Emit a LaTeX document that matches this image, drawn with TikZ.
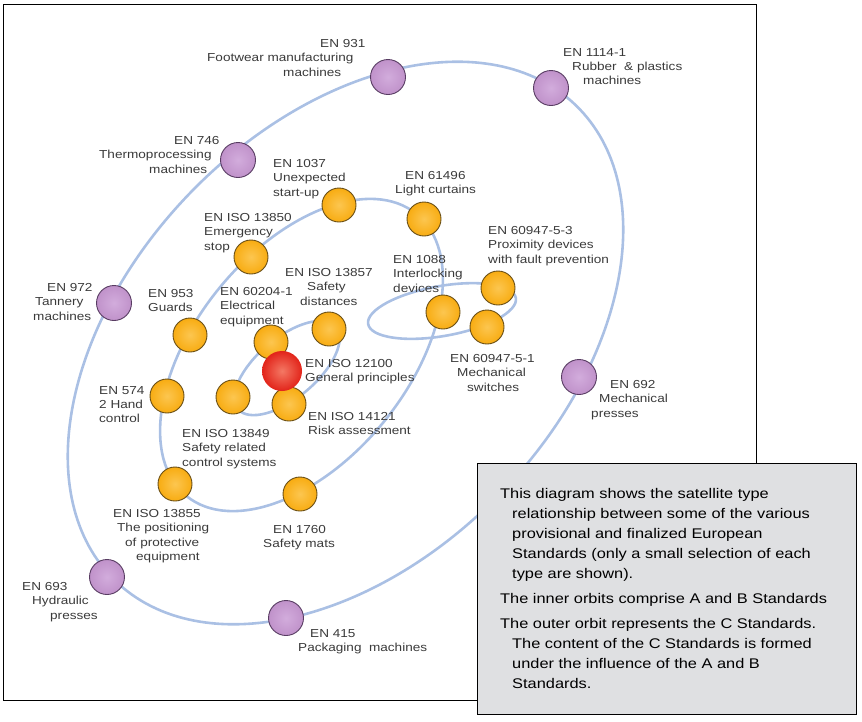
\documentclass[tikz,border=0pt]{standalone}
\usepackage{fontspec}
\setmainfont{Liberation Sans}[FakeStretch=1.17]
\definecolor{orbitblue}{RGB}{170,192,228}
\definecolor{omain}{RGB}{248,172,18}
\definecolor{olight}{RGB}{252,198,80}
\definecolor{obrd}{RGB}{105,78,22}
\definecolor{pmain}{RGB}{192,146,202}
\definecolor{plight}{RGB}{210,172,220}
\definecolor{pbrd}{RGB}{88,60,98}
\definecolor{rmain}{RGB}{226,36,26}
\definecolor{rlight}{RGB}{244,120,100}
\definecolor{lbltext}{RGB}{58,58,58}
\definecolor{boxfill}{RGB}{223,224,226}
\begin{document}
\begin{tikzpicture}[x=1pt,y=-1pt,
  orbit/.style={draw=orbitblue,line width=2.6pt},
  onode/.style={circle,minimum size=34pt,inner sep=0pt,draw=obrd,line width=0.9pt,inner color=olight,outer color=omain},
  pnode/.style={circle,minimum size=35pt,inner sep=0pt,draw=pbrd,line width=0.9pt,inner color=plight,outer color=pmain},
  rnode/.style={circle,minimum size=40pt,inner sep=0pt,inner color=rlight,outer color=rmain},
  lbl/.style={anchor=north west,inner sep=0pt,align=left,text=lbltext,font=\fontsize{11.6}{14.4}\selectfont},
  boxtxt/.style={anchor=north west,inner sep=0pt,align=left,text=black,font=\fontsize{14}{20}\selectfont}]
\useasboundingbox (0,0) rectangle (862,721);
% frame
\draw[line width=1pt] (3,4) rectangle (756,700);
% orbits
\draw[orbit, rotate around={45.9:(345.5,343)}] (345.5,343) ellipse [x radius=331pt, y radius=216pt];
\draw[orbit, rotate around={50.75:(301.5,355)}] (301.5,355) ellipse [x radius=182pt, y radius=106pt];
\draw[orbit, rotate around={40:(287,368)}] (287,368) ellipse [x radius=64pt, y radius=30pt];
\draw[orbit, rotate around={10:(442,311)}] (442,311) ellipse [x radius=75pt, y radius=25pt];
% C standards (purple)
\node[pnode] (n931) at (388,77) {};
\node[pnode] (n1114) at (551,88) {};
\node[pnode] (n746) at (238,160) {};
\node[pnode] (n972) at (114,303) {};
\node[pnode] (n692) at (579,377) {};
\node[pnode] (n693) at (107,577) {};
\node[pnode] (n415) at (286,618) {};
% A and B standards (orange)
\node[onode] (n1037) at (339,205) {};
\node[onode] (n61496) at (424,219) {};
\node[onode] (n13850) at (251,257) {};
\node[onode] (n953) at (190,335) {};
\node[onode] (n60204) at (271,342) {};
\node[onode] (n13857) at (329,329) {};
\node[onode] (n13849) at (233,397) {};
\node[onode] (n14121) at (289,404) {};
\node[onode] (n1088) at (443,312) {};
\node[onode] (n609473) at (498,288) {};
\node[onode] (n609471) at (487,327) {};
\node[onode] (n574) at (167,396) {};
\node[onode] (n13855) at (175,484) {};
\node[onode] (n1760) at (300,494) {};
\node[rnode] (n12100) at (282,371) {};
% labels
\node[lbl] (t931) at (207,39) {\hspace*{113pt}EN 931\\Footwear manufacturing\\\hspace*{76pt}machines};
\node[lbl] (t746) at (99,136) {\hspace*{75pt}EN 746\\Thermoprocessing\\\hspace*{50pt}machines};
\node[lbl] (t1114) at (563,48) {EN 1114-1\\\hspace*{9pt}Rubber\ \ \& plastics\\\hspace*{20pt}machines};
\node[lbl] (t1037) at (273,159) {EN 1037\\Unexpected\\start-up};
\node[lbl] (t61496) at (395,171) {\hspace*{10pt}EN 61496\\Light curtains};
\node[lbl] (t13850) at (204,213) {EN ISO 13850\\Emergency\\stop};
\node[lbl] (t609473) at (488,226) {EN 60947-5-3\\Proximity devices\\with fault prevention};
\node[lbl] (t1088) at (393,255) {EN 1088\\Interlocking\\devices};
\node[lbl] (t13857) at (285,268) {EN ISO 13857\\\hspace*{22pt}Safety\\\hspace*{15pt}distances};
\node[lbl] (t953) at (148,289) {EN 953\\Guards};
\node[lbl] (t60204) at (220,287) {EN 60204-1\\Electrical\\equipment};
\node[lbl] (t972) at (33,283) {\hspace*{14pt}EN 972\\\hspace*{2pt}Tannery\\machines};
\node[lbl] (t12100) at (305,359) {EN ISO 12100\\General principles};
\node[lbl] (t574) at (99,386) {EN 574\\2 Hand\\control};
\node[lbl] (t14121) at (308,412) {EN ISO 14121\\Risk assessment};
\node[lbl] (t13849) at (182,429) {EN ISO 13849\\Safety related\\control systems};
\node[lbl] (t609471) at (450,354) {EN 60947-5-1\\\hspace*{7pt}Mechanical\\\hspace*{17pt}switches};
\node[lbl] (t692) at (591,380) {\hspace*{19pt}EN 692\\\hspace*{8pt}Mechanical\\presses};
\node[lbl] (t13855) at (113,509) {EN ISO 13855\\\hspace*{4pt}The positioning\\\hspace*{12pt}of protective\\\hspace*{23pt}equipment};
\node[lbl] (t1760) at (263,525) {\hspace*{10pt}EN 1760\\Safety mats};
\node[lbl] (t693) at (22,582) {EN 693\\\hspace*{10pt}Hydraulic\\\hspace*{28pt}presses};
\node[lbl] (t415) at (298,629) {\hspace*{12pt}EN 415\\Packaging\ \ machines};
% text box
\draw[line width=1pt, fill=boxfill] (477,463) rectangle (856,714);
\node[boxtxt] (p1) at (500,488) {This diagram shows the satellite type\\\hspace*{12pt}relationship between some of the various\\\hspace*{12pt}provisional and finalized European\\\hspace*{12pt}Standards (only a small selection of each\\\hspace*{12pt}type are shown).};
\node[boxtxt] (p2) at (500,593) {The inner orbits comprise A and B Standards};
\node[boxtxt] (p3) at (500,618) {The outer orbit represents the C Standards.\\\hspace*{12pt}The content of the C Standards is formed\\\hspace*{12pt}under the influence of the A and B\\\hspace*{12pt}Standards.};
\end{tikzpicture}
\end{document}
